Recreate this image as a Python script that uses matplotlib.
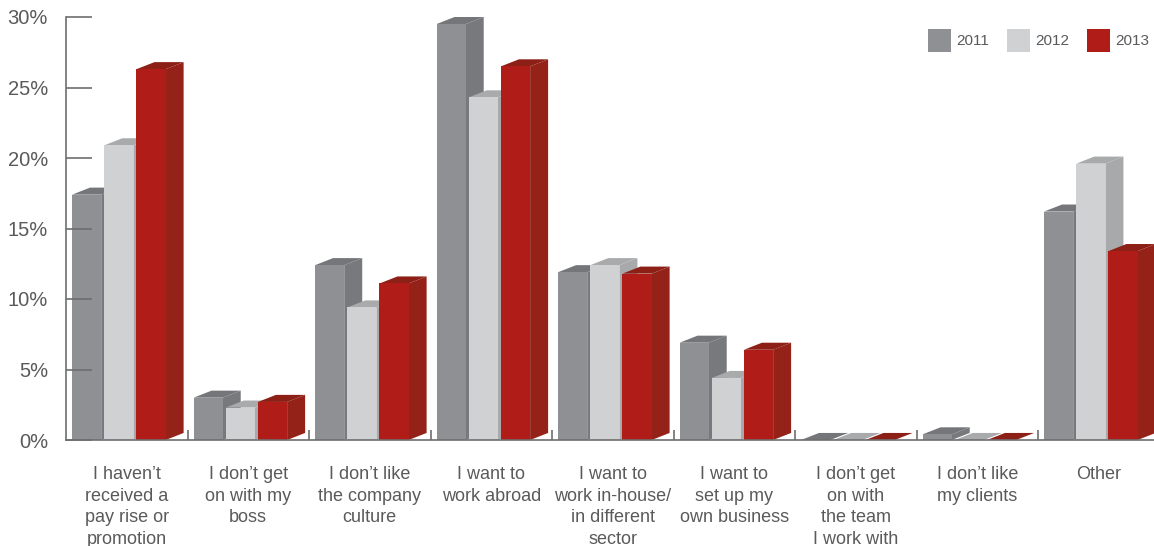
import matplotlib
matplotlib.use('Agg')
import matplotlib.pyplot as plt
from matplotlib.patches import Polygon, Rectangle

plt.rcParams['font.family'] = ['Liberation Sans', 'DejaVu Sans']

CATEGORIES = [
    'I haven\u2019t\nreceived a\npay rise or\npromotion',
    'I don\u2019t get\non with my\nboss',
    'I don\u2019t like\nthe company\nculture',
    'I want to\nwork abroad',
    'I want to\nwork in-house/\nin different\nsector',
    'I want to\nset up my\nown business',
    'I don\u2019t get\non with\nthe team\nI work with',
    'I don\u2019t like\nmy clients',
    'Other',
]
YEARS = ['2011', '2012', '2013']
VALUES_2011 = [17.4, 3.0, 12.4, 29.5, 11.9, 6.9, 0.0, 0.4, 16.2]
VALUES_2012 = [20.9, 2.3, 9.4, 24.3, 12.4, 4.4, 0.0, 0.0, 19.6]
VALUES_2013 = [26.3, 2.7, 11.1, 26.5, 11.8, 6.4, 0.0, 0.0, 13.4]
Y_TICKS = [0, 5, 10, 15, 20, 25, 30]

# front, side, top shades for each year
COLORS = [
    ('#8f9094', '#78797c', '#75767a'),
    ('#d0d1d3', '#a8a9ab', '#a9aaac'),
    ('#b01c18', '#942218', '#8c2016'),
]

BAR_W = 0.24
BAR_STEP = 0.265
BAR_OFFSET = 0.05
DEPTH_X = 0.148
DEPTH_Y = 0.5
TEXT = '#5a5a5a'
AXIS = '#6e6e6e'


def draw_bar(ax, x, h, front, side, top):
    ax.add_patch(Polygon(
        [(x + BAR_W, 0), (x + BAR_W + DEPTH_X, DEPTH_Y),
         (x + BAR_W + DEPTH_X, h + DEPTH_Y), (x + BAR_W, h)],
        closed=True, facecolor=side, edgecolor='none', clip_on=False))
    ax.add_patch(Polygon(
        [(x, h), (x + DEPTH_X, h + DEPTH_Y),
         (x + BAR_W + DEPTH_X, h + DEPTH_Y), (x + BAR_W, h)],
        closed=True, facecolor=top, edgecolor='none', clip_on=False))
    if h > 0:
        ax.bar(x, h, width=BAR_W, align='edge', color=front,
               edgecolor='none', clip_on=False)


def main():
    fig = plt.figure(figsize=(11.54, 5.46), dpi=100)
    ax = fig.add_axes([66 / 1154, 106 / 546, 1088 / 1154, 423 / 546])

    series = [VALUES_2011, VALUES_2012, VALUES_2013]
    for i in range(len(CATEGORIES)):
        for j, vals in enumerate(series):
            x = i + BAR_OFFSET + j * BAR_STEP
            draw_bar(ax, x, vals[i], *COLORS[j])

    ax.set_xlim(0, 1088 / 121.5)
    ax.set_ylim(0, 30)

    for s in ['top', 'right']:
        ax.spines[s].set_visible(False)
    for s in ['left', 'bottom']:
        ax.spines[s].set_color(AXIS)
        ax.spines[s].set_linewidth(1.2)
        ax.spines[s].set_zorder(5)

    ax.set_yticks(Y_TICKS)
    ax.set_yticklabels(['%d%%' % t for t in Y_TICKS])
    ax.tick_params(axis='y', direction='in', length=19, width=1.2,
                   color=AXIS, labelcolor=TEXT, labelsize=14.5, pad=13)

    centers = [i + 0.5 for i in range(len(CATEGORIES))]
    ax.set_xticks(centers)
    ax.set_xticklabels(CATEGORIES, linespacing=1.35)
    ax.tick_params(axis='x', which='major', length=0, labelcolor=TEXT,
                   labelsize=13, pad=19)
    ax.set_xticks(range(1, len(CATEGORIES)), minor=True)
    ax.tick_params(axis='x', which='minor', direction='in', length=7,
                   width=1.2, color=AXIS)

    # legend drawn as squares + labels in figure pixels
    for j, (year, lx) in enumerate(zip(YEARS, [928, 1007, 1087])):
        fig.patches.append(Rectangle(
            (lx / 1154, 1 - 52 / 546), 23 / 1154, 23 / 546,
            transform=fig.transFigure, facecolor=COLORS[j][0],
            edgecolor='none'))
        fig.text((lx + 28) / 1154, 1 - 41 / 546, year, color=TEXT,
                 fontsize=11, va='center', ha='left')

    fig.savefig('out.png', dpi=100, facecolor='white')


if __name__ == '__main__':
    main()
